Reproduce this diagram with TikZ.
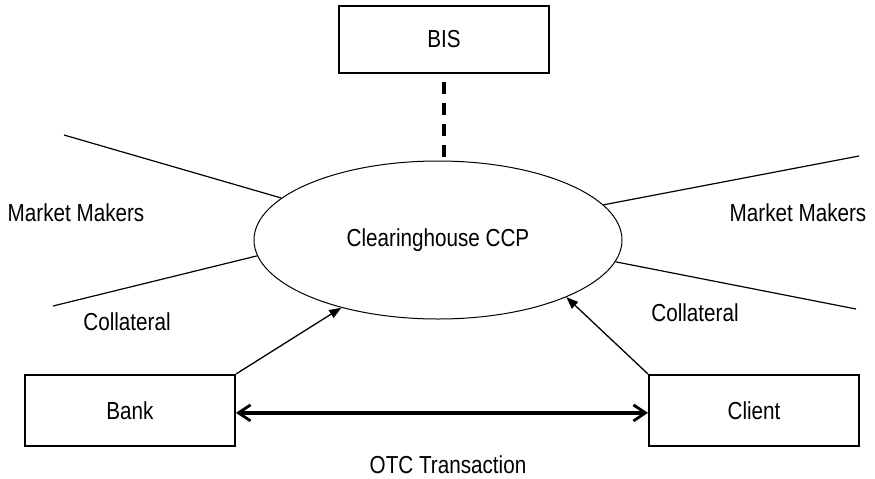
\documentclass[tikz,border=0pt]{standalone}
\usepackage{fontspec}
\setmainfont[FakeStretch=0.84]{Liberation Sans}
\usetikzlibrary{shapes.geometric, arrows.meta}

\begin{document}
\begin{tikzpicture}[
  x=0.5pt, y=-0.5pt,
  font=\fontsize{12.3}{14}\selectfont,
  party/.style={rectangle, draw=black, line width=1pt, minimum width=105pt, minimum height=35.5pt, inner sep=0pt},
  ccpnode/.style={ellipse, draw=black, line width=0.5pt, minimum width=184pt, minimum height=79pt, inner sep=0pt},
  label/.style={inner sep=0pt},
  spoke/.style={line width=0.6pt},
  arrow/.style={-{Triangle[length=6pt, width=4.5pt]}, line width=0.65pt},
  otc/.style={{Straight Barb[length=6pt, width=8pt, line width=1.4pt]}-{Straight Barb[length=6pt, width=8pt, line width=1.4pt]}, line width=2pt},
  oversight/.style={line width=2pt, dash pattern=on 6pt off 4.5pt}
]
\useasboundingbox (0,0) rectangle (875,478);

% Central counterparty and regulator
\node[ccpnode] (ccp) at (438,240) {Clearinghouse CCP};
\node[party, minimum height=33.5pt] (bis) at (444,39.5) {BIS};
\draw[oversight] ([yshift=-4pt]bis.south) -- ([yshift=1.5pt]bis.south |- ccp.north);

% Market makers on both sides
\coordinate (mm_lt) at (64,135);
\coordinate (mm_lb) at (53,306);
\coordinate (mm_rt) at (859,156);
\coordinate (mm_rb) at (856,309);
\draw[spoke] (mm_lt) -- (ccp.165.5);
\draw[spoke] (mm_lb) -- (ccp.185.3);
\draw[spoke] (mm_rt) -- (ccp.12.4);
\draw[spoke] (mm_rb) -- (ccp.353.7);

\node[label] (mm_left) at (76,213) {Market Makers};
\node[label] (mm_right) at (798,213) {Market Makers};
\node[label] (coll_left) at (127,322) {Collateral};
\node[label] (coll_right) at (695,313) {Collateral};

% Trade between bank and client
\node[party] (bank) at (130,410.5) {Bank};
\node[party] (client) at (754,410.5) {Client};
\draw[arrow] (bank.north east) -- (ccp.215);
\draw[arrow] (client.north west) -- (ccp.-24);
\draw[otc] ([yshift=-1.2pt]bank.east) -- ([yshift=-1.2pt]client.west);
\node[label] (otc_label) at (448,465) {OTC Transaction};

\end{tikzpicture}
\end{document}
